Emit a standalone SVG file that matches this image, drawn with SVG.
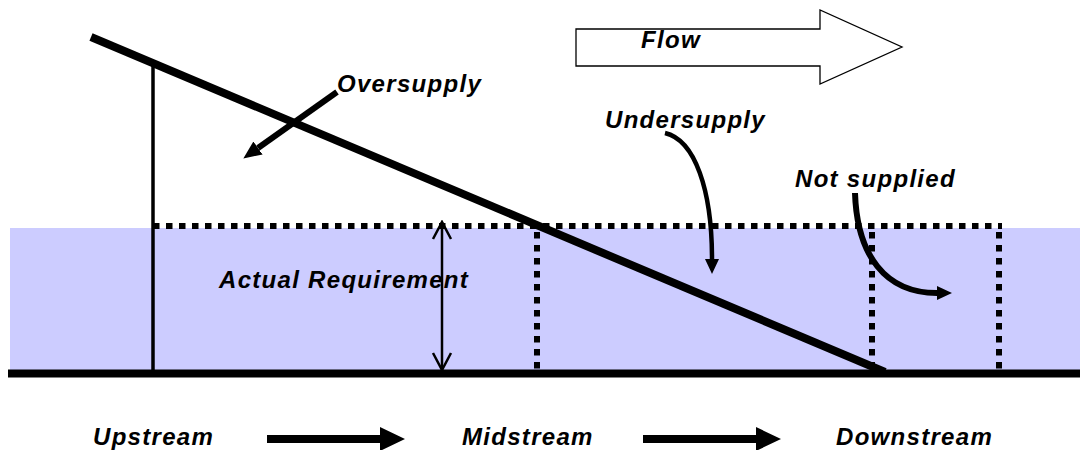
<svg xmlns="http://www.w3.org/2000/svg" width="1080" height="450" viewBox="0 0 1080 450">
  <style>
    .lbl { font-family: "Liberation Sans", Arial, sans-serif; font-size: 24px; font-weight: bold; font-style: italic; letter-spacing: 1.3px; fill: #000; }
    .thick { stroke: #000; stroke-width: 8; fill: none; }
    .dots { stroke: #000; stroke-width: 6; stroke-dasharray: 6.5 6.5; fill: none; }
    .curve { stroke: #000; fill: none; }
  </style>
  <defs>
    <marker id="headL" markerUnits="userSpaceOnUse" markerWidth="20" markerHeight="20" viewBox="0 -10 20 20" refX="0" refY="0" orient="auto">
      <path d="M0,-8 L18,0 L0,8 z" fill="#000"/>
    </marker>
    <marker id="headS" markerUnits="userSpaceOnUse" markerWidth="18" markerHeight="18" viewBox="0 -9 18 18" refX="0" refY="0" orient="auto">
      <path d="M0,-7 L15,0 L0,7 z" fill="#000"/>
    </marker>
    <marker id="open" markerUnits="userSpaceOnUse" markerWidth="22" markerHeight="24" viewBox="-20 -12 22 24" refX="0" refY="0" orient="auto-start-reverse">
      <path d="M-17,-9 L0,0 L-17,9" fill="none" stroke="#000" stroke-width="2.5"/>
    </marker>
  </defs>

  <g id="requirement-band">
    <rect x="10" y="228" width="1070" height="146" fill="#CCCCFF"/>
  </g>

  <g id="supply-frame">
    <line x1="153" y1="63" x2="153" y2="374" stroke="#000" stroke-width="3.5"/>
    <line class="dots" x1="153" y1="226" x2="1002" y2="226"/>
    <line class="dots" x1="537" y1="232" x2="537" y2="370"/>
    <line class="dots" x1="872" y1="232" x2="872" y2="370"/>
    <line class="dots" x1="999" y1="232" x2="999" y2="370"/>
  </g>

  <g id="baseline">
    <line class="thick" x1="8" y1="373.5" x2="1080" y2="373.5"/>
  </g>

  <g id="supply-line">
    <line class="thick" x1="91" y1="37" x2="885" y2="372"/>
  </g>

  <g id="flow">
    <polygon points="576,29 820,29 820,10 902,47 820,84 820,66 576,66" fill="#fff" stroke="#000" stroke-width="1.3"/>
    <text class="lbl" x="641" y="48">Flow</text>
  </g>

  <g id="oversupply">
    <text class="lbl" x="337" y="92">Oversupply</text>
  </g>
  <g id="undersupply">
    <text class="lbl" x="605" y="128">Undersupply</text>
  </g>
  <g id="not-supplied">
    <text class="lbl" x="795" y="187">Not supplied</text>
  </g>
  <g id="actual-requirement">
    <text class="lbl" x="219" y="288">Actual Requirement</text>
  </g>

  <g id="upstream"><text class="lbl" x="93" y="445">Upstream</text></g>
  <g id="midstream"><text class="lbl" x="462" y="445">Midstream</text></g>
  <g id="downstream"><text class="lbl" x="836" y="445">Downstream</text></g>

  <g id="connectors">
    <line x1="337" y1="92" x2="258" y2="148" stroke="#000" stroke-width="6" marker-end="url(#headL)"/>
    <path class="curve" d="M665,133 C695,140 712,190 712,259" stroke-width="4.5" marker-end="url(#headS)"/>
    <path class="curve" d="M855,193 C857,255 885,293 937,293" stroke-width="6" marker-end="url(#headS)"/>
    <line x1="442" y1="222" x2="442" y2="370" stroke="#000" stroke-width="2.5" marker-start="url(#open)" marker-end="url(#open)"/>
    <path d="M267,435 H380 V427 L405,439 L380,451 V443 H267 z" fill="#000"/>
    <path d="M643,435 H756 V427 L781,439 L756,451 V443 H643 z" fill="#000"/>
  </g>
</svg>
